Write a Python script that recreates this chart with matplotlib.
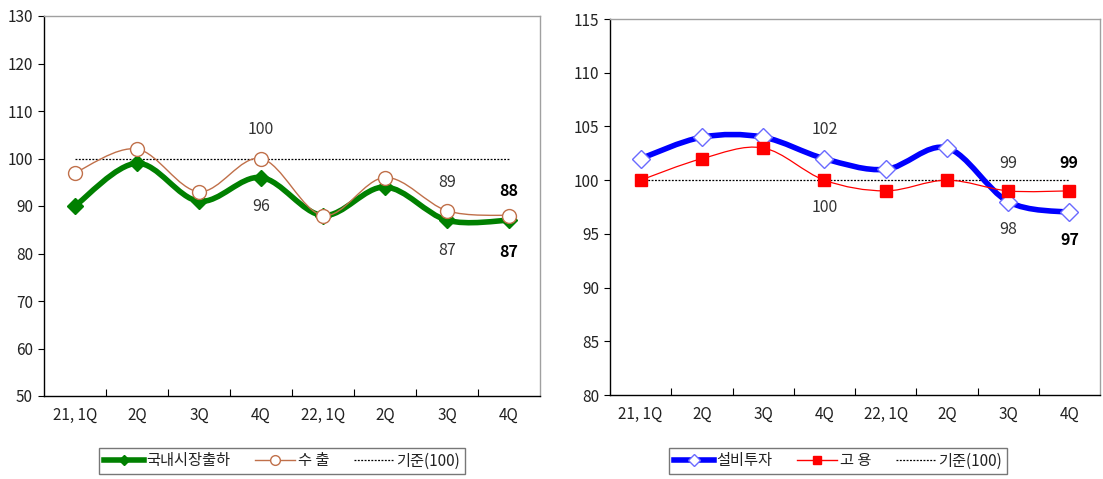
import numpy as np
import matplotlib
matplotlib.use('Agg')
import matplotlib.pyplot as plt
from matplotlib.path import Path
from matplotlib.patches import PathPatch
from matplotlib.lines import Line2D

plt.rcParams['font.family'] = ['Noto Sans CJK KR', 'DejaVu Sans']
plt.rcParams['axes.unicode_minus'] = False

# 분기 라벨
quarters = ['21, 1Q', '2Q', '3Q', '4Q', '22, 1Q', '2Q', '3Q', '4Q']

# 왼쪽: 국내시장출하 / 수출
domestic = [90, 99, 91, 96, 88, 94, 87, 87]
export = [97, 102, 93, 100, 88, 96, 89, 88]

# 오른쪽: 설비투자 / 고용
invest = [102, 104, 104, 102, 101, 103, 98, 97]
employ = [100, 102, 103, 100, 99, 100, 99, 99]

base = 100


def smooth_path(xs, ys):
    # 엑셀식 부드러운 선 (Catmull-Rom -> 베지어)
    n = len(xs)
    verts = [(xs[0], ys[0])]
    codes = [Path.MOVETO]
    for i in range(n - 1):
        a = max(i - 1, 0)
        b = min(i + 2, n - 1)
        c1 = (xs[i] + (xs[i + 1] - xs[a]) / 6.0, ys[i] + (ys[i + 1] - ys[a]) / 6.0)
        c2 = (xs[i + 1] - (xs[b] - xs[i]) / 6.0, ys[i + 1] - (ys[b] - ys[i]) / 6.0)
        verts += [c1, c2, (xs[i + 1], ys[i + 1])]
        codes += [Path.CURVE4] * 3
    return Path(verts, codes)


def setup_axes(ax, ymin, ymax, ystep):
    x = np.arange(len(quarters))
    ax.set_xlim(-0.5, len(quarters) - 0.5)
    ax.set_ylim(ymin, ymax)
    ax.set_yticks(np.arange(ymin, ymax + 0.1, ystep))
    ax.set_xticks(x)
    ax.set_xticklabels(quarters)
    ax.set_xticks(np.arange(0.5, len(quarters) - 0.5, 1), minor=True)
    ax.tick_params(axis='x', which='major', length=0, pad=8, labelsize=11, labelcolor='#222222')
    ax.tick_params(axis='x', which='minor', length=5, direction='in', width=0.8)
    ax.tick_params(axis='y', length=4, direction='out', width=0.8, pad=4,
                   labelsize=11, labelcolor='#222222')
    for s in ['left', 'bottom']:
        ax.spines[s].set_color('black')
        ax.spines[s].set_linewidth(1.0)
    for s in ['top', 'right']:
        ax.spines[s].set_color('#a0a0a0')
        ax.spines[s].set_linewidth(1.0)
    ax.plot([x[0], x[-1]], [base, base], color='black', lw=0.9, ls=(0, (1.5, 1.2)), zorder=2)


def draw_series(ax, vals, color, lw, marker, ms, mfc, mec, mew, z):
    x = np.arange(len(vals))
    ax.add_patch(PathPatch(smooth_path(x, vals), fill=False, edgecolor=color,
                           lw=lw, capstyle='round', joinstyle='round', zorder=z))
    ax.plot(x, vals, ls='none', marker=marker, ms=ms, mfc=mfc, mec=mec, mew=mew, zorder=z + 0.5)


def label(ax, i, v, txt, dy, bold=False):
    ax.annotate(txt, (i, v), xytext=(0, dy), textcoords='offset points',
                ha='center', va='center', fontsize=11.5,
                fontweight='bold' if bold else 'normal',
                color='black' if bold else '#333333', zorder=10)


fig = plt.figure(figsize=(11.03, 4.79), dpi=100)
ax1 = fig.add_axes([44 / 1103, 1 - 396 / 479, 496 / 1103, 380 / 479])
ax2 = fig.add_axes([610 / 1103, 1 - 395 / 479, 490 / 1103, 376 / 479])

green = '#008000'
brown = '#c0704a'
blue = '#0000ff'
red = '#ff0000'

# 왼쪽 차트
setup_axes(ax1, 50, 130, 10)
draw_series(ax1, domestic, green, 4.0, 'D', 8, green, green, 1, 3)
draw_series(ax1, export, brown, 1.0, 'o', 10, 'white', brown, 1.0, 4)
label(ax1, 3, export[3], '100', 21)
label(ax1, 3, domestic[3], '96', -21)
label(ax1, 6, export[6], '89', 20)
label(ax1, 6, domestic[6], '87', -22)
label(ax1, 7, export[7], '88', 18, bold=True)
label(ax1, 7, domestic[7], '87', -23, bold=True)

# 오른쪽 차트
setup_axes(ax2, 80, 115, 5)
draw_series(ax2, invest, blue, 4.0, 'D', 9, 'white', '#6a6aff', 1.0, 3)
draw_series(ax2, employ, red, 0.9, 's', 8, red, red, 1, 4)
label(ax2, 3, invest[3], '102', 21)
label(ax2, 3, employ[3], '100', -20)
label(ax2, 6, employ[6], '99', 20)
label(ax2, 6, invest[6], '98', -20)
label(ax2, 7, employ[7], '99', 20, bold=True)
label(ax2, 7, invest[7], '97', -20, bold=True)

# 범례
h1 = [Line2D([], [], color=green, lw=4, marker='D', ms=5, mfc=green, mec=green),
      Line2D([], [], color=brown, lw=1, marker='o', ms=7, mfc='white', mec=brown),
      Line2D([], [], color='black', lw=0.9, ls=(0, (1.5, 1.2)))]
h2 = [Line2D([], [], color=blue, lw=4, marker='D', ms=6, mfc='white', mec='#6a6aff'),
      Line2D([], [], color=red, lw=1, marker='s', ms=6, mfc=red, mec=red),
      Line2D([], [], color='black', lw=0.9, ls=(0, (1.5, 1.2)))]

for hs, labels, cx in [(h1, ['국내시장출하', '수 출', '기준(100)'], 282 / 1103),
                       (h2, ['설비투자', '고 용', '기준(100)'], 838 / 1103)]:
    leg = fig.legend(hs, labels, loc='center', bbox_to_anchor=(cx, 1 - 461 / 479),
                     ncol=3, frameon=True, fancybox=False, edgecolor='#555555',
                     fontsize=11, handlelength=2.6, handletextpad=0.2,
                     columnspacing=1.6, borderpad=0.3, labelcolor='#222222')
    leg.get_frame().set_linewidth(1.0)

fig.savefig('out.png', dpi=100)
